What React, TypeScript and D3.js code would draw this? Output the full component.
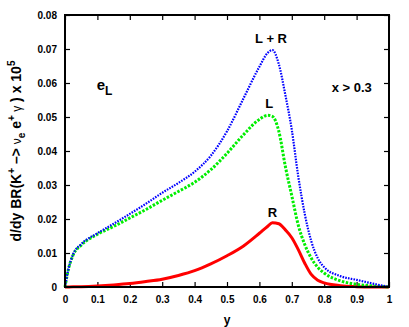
import React, { useEffect, useRef } from 'react';
import * as d3 from 'd3';

// photon energy fraction y
const yValues = [0, 0.01, 0.025, 0.05, 0.1, 0.15, 0.2, 0.25, 0.3, 0.35, 0.4, 0.45, 0.5, 0.55, 0.6, 0.625, 0.64, 0.66, 0.68, 0.7, 0.72, 0.74, 0.76, 0.78, 0.8, 0.85, 0.9, 0.95, 1.0];

// L + R (blue dotted)
const totalLR = [0, 0.005, 0.0096, 0.0126, 0.0158, 0.0186, 0.0215, 0.0245, 0.0277, 0.0306, 0.0339, 0.0386, 0.0458, 0.0553, 0.0648, 0.0688, 0.0697, 0.0655, 0.0565, 0.0462, 0.0325, 0.0215, 0.0135, 0.0085, 0.0058, 0.0032, 0.0021, 0.001, 0];

// L (green dotted)
const leftL = [0, 0.005, 0.0094, 0.0123, 0.0155, 0.0178, 0.0203, 0.0228, 0.0255, 0.0281, 0.0308, 0.0345, 0.0393, 0.0447, 0.0493, 0.0505, 0.0502, 0.0458, 0.0355, 0.0268, 0.0182, 0.0125, 0.0085, 0.0058, 0.0041, 0.0018, 0.0008, 0.0003, 0];

// R (red solid)
const rightR = [0, 0.00002, 0.00005, 0.0001, 0.0003, 0.0006, 0.001, 0.0016, 0.0023, 0.0034, 0.0048, 0.0068, 0.0092, 0.012, 0.0158, 0.0178, 0.0189, 0.0186, 0.0168, 0.0145, 0.011, 0.007, 0.0037, 0.002, 0.0012, 0.0004, 0.0001, 0, 0];

const xTicks = [0, 0.1, 0.2, 0.3, 0.4, 0.5, 0.6, 0.7, 0.8, 0.9, 1];
const yTicks = [0, 0.01, 0.02, 0.03, 0.04, 0.05, 0.06, 0.07, 0.08];

const FONT = "'Liberation Sans', Arial, Helvetica, sans-serif";

const App = () => {
  const svgRef = useRef<SVGSVGElement | null>(null);

  useEffect(() => {
    const width = 409;
    const height = 327;
    const margin = { top: 15, right: 20, bottom: 40, left: 65 };
    const w = width - margin.left - margin.right;
    const h = height - margin.top - margin.bottom;

    const svg = d3.select(svgRef.current);
    svg.selectAll('*').remove();

    const x = d3.scaleLinear().domain([0, 1]).range([0, w]);
    const y = d3.scaleLinear().domain([0, 0.08]).range([h, 0]);

    const g = svg.append('g').attr('transform', `translate(${margin.left},${margin.top})`);

    const tickStyle = (sel: any) => {
      sel.select('.domain').remove();
      sel.selectAll('line').attr('stroke', '#000').attr('stroke-width', 1.2);
      sel.selectAll('text').attr('font-family', FONT).attr('font-weight', 'bold').attr('font-size', 10).attr('fill', '#000');
    };

    g.append('g')
      .attr('transform', `translate(0,${h})`)
      .call(d3.axisBottom(x).tickValues(xTicks).tickSize(-5).tickPadding(9).tickFormat((d: any) => (d === 0 || d === 1 ? String(d) : d3.format('.1f')(d))))
      .call(tickStyle);
    g.append('g')
      .call(d3.axisTop(x).tickValues(xTicks).tickSize(-5).tickFormat(() => ''))
      .call(tickStyle);
    g.append('g')
      .call(d3.axisLeft(y).tickValues(yTicks).tickSize(-5).tickPadding(8).tickFormat((d: any) => (d === 0 ? '0' : d3.format('.2f')(d))))
      .call(tickStyle);
    g.append('g')
      .attr('transform', `translate(${w},0)`)
      .call(d3.axisRight(y).tickValues(yTicks).tickSize(-5).tickFormat(() => ''))
      .call(tickStyle);

    const line = d3
      .line<number>()
      .x((_, i) => x(yValues[i]))
      .y((d) => y(d))
      .curve(d3.curveMonotoneX);

    g.append('path')
      .datum(rightR)
      .attr('d', line)
      .attr('fill', 'none')
      .attr('stroke', '#ff0000')
      .attr('stroke-width', 3);

    g.append('path')
      .datum(leftL)
      .attr('d', line)
      .attr('fill', 'none')
      .attr('stroke', '#00ee00')
      .attr('stroke-width', 3)
      .attr('stroke-dasharray', '2.5,1.5');

    g.append('path')
      .datum(totalLR)
      .attr('d', line)
      .attr('fill', 'none')
      .attr('stroke', '#0000ff')
      .attr('stroke-width', 2.2)
      .attr('stroke-dasharray', '1.6,1.2');

    // frame
    g.append('rect')
      .attr('width', w)
      .attr('height', h)
      .attr('fill', 'none')
      .attr('stroke', '#000')
      .attr('stroke-width', 2);

    const label = (tx: number, ty: number, txt: string, size = 13, anchor = 'middle') =>
      g.append('text')
        .attr('x', tx)
        .attr('y', ty)
        .attr('text-anchor', anchor)
        .attr('font-family', FONT)
        .attr('font-weight', 'bold')
        .attr('font-size', size)
        .text(txt);

    label(x(0.636), y(0.0697) - 7, 'L + R');
    label(x(0.63), y(0.0506) - 7, 'L');
    label(x(0.64), y(0.0189) - 6, 'R');
    label(x(0.885), y(0.0575), 'x > 0.3', 13, 'middle');

    const eL = g.append('text')
      .attr('x', x(0.098))
      .attr('y', y(0.058))
      .attr('font-family', FONT)
      .attr('font-weight', 'bold')
      .attr('font-size', 15);
    eL.append('tspan').text('e');
    eL.append('tspan').attr('dy', 5).attr('font-size', 12).text('L');

    // x axis title
    svg.append('text')
      .attr('x', margin.left + w / 2)
      .attr('y', 324)
      .attr('text-anchor', 'middle')
      .attr('font-family', FONT)
      .attr('font-weight', 'bold')
      .attr('font-size', 12)
      .text('y');

    // y axis title
    const yt = svg.append('text')
      .attr('transform', `translate(21,${margin.top + h / 2}) rotate(-90)`)
      .attr('text-anchor', 'middle')
      .attr('font-family', FONT)
      .attr('font-weight', 'bold')
      .attr('font-size', 14);
    yt.append('tspan').text('d/dy BR(K');
    yt.append('tspan').attr('dy', -6).attr('font-size', 10).text('+');
    yt.append('tspan').attr('dy', 6).text(' –> ');
    yt.append('tspan').attr('font-weight', 'normal').attr('font-size', 12).text('ν');
    yt.append('tspan').attr('dy', 4).attr('font-size', 10).text('e');
    yt.append('tspan').attr('dy', -4).text(' e');
    yt.append('tspan').attr('dy', -6).attr('font-size', 10).text('+');
    yt.append('tspan').attr('dy', 6).attr('font-weight', 'normal').attr('font-size', 12).text(' γ');
    yt.append('tspan').text(' ) x 10');
    yt.append('tspan').attr('dy', -6).attr('font-size', 10).text('5');
  }, []);

  return (
    <svg
      ref={svgRef}
      width={409}
      height={327}
      style={{ position: 'absolute', left: 0, top: 0, background: '#fff' }}
    ></svg>
  );
};

export default App;
